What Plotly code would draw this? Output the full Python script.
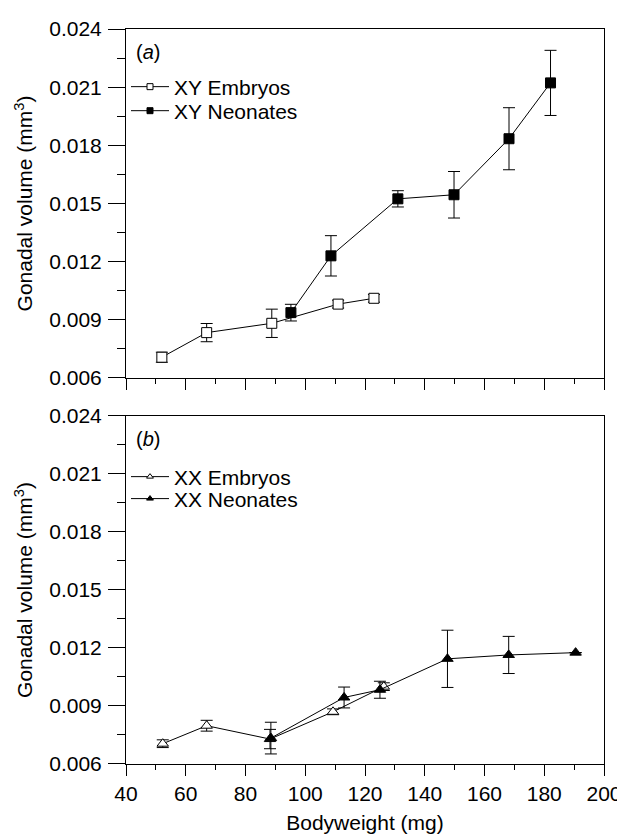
import plotly.graph_objects as go

# ---- data ----
xy_emb_x = [52, 67, 88.8, 111, 123]
xy_emb_y = [0.00707, 0.00834, 0.00882, 0.00981, 0.01011]
xy_emb_e = [0.00026, 0.00047, 0.00073, 0.0002, 0.0002]

xy_neo_x = [95.2, 108.6, 131, 149.8, 168.2, 182.1]
xy_neo_y = [0.00937, 0.0123, 0.01524, 0.01545, 0.01834, 0.02122]
xy_neo_e = [0.00043, 0.00104, 0.00042, 0.0012, 0.0016, 0.00168]

xx_emb_x = [52.3, 67, 88.2, 109.3, 126.3]
xx_emb_y = [0.00705, 0.00798, 0.00729, 0.0087, 0.0100]
xx_emb_e = [0.0002, 0.00028, 0.0005, 0.00015, 0.0002]

xx_neo_x = [88.5, 113, 125, 147.6, 168.1, 190.5]
xx_neo_y = [0.00734, 0.00944, 0.00984, 0.01144, 0.01164, 0.01176]
xx_neo_e = [0.00082, 0.00054, 0.00044, 0.00148, 0.00096, 0]

x_ticks = [40, 60, 80, 100, 120, 140, 160, 180, 200]
y_ticks = [0.006, 0.009, 0.012, 0.015, 0.018, 0.021, 0.024]
y_tick_text = ["0.006", "0.009", "0.012", "0.015", "0.018", "0.021", "0.024"]

FONT = "Liberation Sans, Arial, Helvetica, sans-serif"

fig = go.Figure()

def err(arr):
    return dict(type="data", array=arr, color="black", thickness=1, width=6, visible=True)

def add_series(x, y, e, symbol, fill, size, xa, ya, name, legend):
    fig.add_trace(go.Scatter(
        x=x, y=y, error_y=err(e), mode="lines+markers", xaxis=xa, yaxis=ya,
        line=dict(color="black", width=1),
        marker=dict(symbol=symbol, size=size, color=fill, line=dict(color="black", width=1)),
        showlegend=False, hoverinfo="skip"))
    # legend-only entry with smaller marker
    fig.add_trace(go.Scatter(
        x=[None], y=[None], mode="lines+markers", xaxis=xa, yaxis=ya, name=name,
        legend=legend,
        line=dict(color="black", width=1),
        marker=dict(symbol=symbol, size=6, color=fill, line=dict(color="black", width=1))))

add_series(xy_emb_x, xy_emb_y, xy_emb_e, "square", "white", 10, "x", "y", "XY Embryos", "legend")
add_series(xy_neo_x, xy_neo_y, xy_neo_e, "square", "black", 10, "x", "y", "XY Neonates", "legend2")
add_series(xx_emb_x, xx_emb_y, xx_emb_e, "triangle-up", "white", 10, "x2", "y2", "XX Embryos", "legend3")
add_series(xx_neo_x, xx_neo_y, xx_neo_e, "triangle-up", "black", 10, "x2", "y2", "XX Neonates", "legend4")

xcommon = dict(range=[40, 200], tickmode="array", tickvals=x_ticks, automargin=False,
               showgrid=False, zeroline=False, showline=True, linecolor="black",
               linewidth=1, mirror=True, ticks="outside", ticklen=11, tickcolor="black",
               tickfont=dict(size=21, color="black", family=FONT),
               minor=dict(tickmode="array", tickvals=[50, 70, 90, 110, 130, 150, 170, 190],
                          ticks="outside", ticklen=5, tickcolor="black", showgrid=False))
ycommon = dict(range=[0.006, 0.024], tickmode="array", tickvals=y_ticks, ticktext=y_tick_text,
               automargin=False,
               showgrid=False, zeroline=False, showline=True, linecolor="black",
               linewidth=1, mirror=True, ticks="outside", ticklen=17, tickcolor="black",
               ticklabelstandoff=2,
               tickfont=dict(size=21, color="black", family=FONT),
               minor=dict(tickmode="array",
                          tickvals=[0.0075, 0.0105, 0.0135, 0.0165, 0.0195, 0.0225],
                          ticks="outside", ticklen=8, tickcolor="black", showgrid=False),
               title=dict(text="Gonadal volume (mm<sup>3</sup>)",
                          font=dict(size=21, color="black", family=FONT), standoff=10))

def leg(yc):
    return dict(x=0.0, y=yc, xanchor="left", yanchor="middle", bgcolor="rgba(0,0,0,0)",
                itemwidth=38, font=dict(size=21, color="black", family=FONT))

fig.update_layout(
    width=617, height=826,
    margin=dict(l=118, r=21, t=21, b=70),
    paper_bgcolor="white", plot_bgcolor="white",
    font=dict(family=FONT, color="black"),
    xaxis=dict(xcommon, anchor="y", showticklabels=False),
    yaxis=dict(ycommon, anchor="x", domain=[0.5252, 1.0]),
    xaxis2=dict(xcommon, anchor="y2",
                title=dict(text="Bodyweight (mg)", font=dict(size=21, color="black", family=FONT),
                           standoff=14)),
    yaxis2=dict(ycommon, anchor="x2", domain=[0.0, 0.4735]),
    legend=leg(0.9211),
    legend2=leg(0.8884),
    legend3=leg(0.3905),
    legend4=leg(0.3606),
    annotations=[
        dict(text="(<i>a</i>)", x=42.6, y=0.02281, xref="x", yref="y", showarrow=False,
             xanchor="left", yanchor="middle", font=dict(size=20, color="black", family=FONT)),
        dict(text="(<i>b</i>)", x=42.6, y=0.02281, xref="x2", yref="y2", showarrow=False,
             xanchor="left", yanchor="middle", font=dict(size=20, color="black", family=FONT)),
    ],
)

fig.write_html("out.html")
